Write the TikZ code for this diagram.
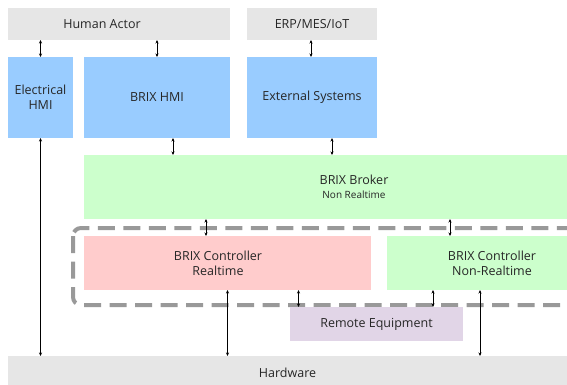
\documentclass[tikz,border=0pt]{standalone}
\usepackage{fontspec}
\setmainfont{Open Sans}
\usepackage{tikz}
\usetikzlibrary{arrows.meta}

\definecolor{actorgray}{HTML}{E6E6E6}
\definecolor{hmiblue}{HTML}{99CCFF}
\definecolor{nrtgreen}{HTML}{CCFFCC}
\definecolor{rtred}{HTML}{FFCCCC}
\definecolor{remotepurple}{HTML}{E1D5E7}
\definecolor{borderdash}{HTML}{999999}

\tikzset{
  box/.style={anchor=north west, inner sep=0pt, outer sep=0pt, align=center,
    text=black!85, font=\fontsize{12.5}{15}\selectfont},
  link/.style={{Stealth[length=3.5pt,width=3pt]}-{Stealth[length=3.5pt,width=3pt]}, line width=0.5pt}
}

\begin{document}
\begin{tikzpicture}[x=1pt,y=-1pt]
        \useasboundingbox (0,0) rectangle (567,385);
        % top row
        \node[box, fill=actorgray, minimum width=222pt, minimum height=32pt,
              label={[box, anchor=center, xshift=-17pt]center:Human Actor}] (human) at (8,8) {};
        \node[box, fill=actorgray, minimum width=130pt, minimum height=32pt] (erp) at (247,8) {ERP/MES/IoT};
        % interfaces
        \node[box, fill=hmiblue, minimum width=65pt, minimum height=81pt] (elec) at (8,57) {Electrical\\HMI};
        \node[box, fill=hmiblue, minimum width=146pt, minimum height=81pt] (hmi) at (84,57) {BRIX HMI};
        \node[box, fill=hmiblue, minimum width=130pt, minimum height=81pt] (ext) at (247,57) {External Systems};
        % broker
        \node[box, fill=nrtgreen, minimum width=540pt, minimum height=64pt] (broker) at (84,155)
              {BRIX Broker\\[-1pt]{\fontsize{10}{12}\selectfont Non Realtime}};
        % controllers
        \draw[borderdash, line width=4pt, dash pattern=on 17pt off 8.5pt, rounded corners=8pt]
              (73,228) rectangle (600,305);
        \node[box, fill=rtred, minimum width=287pt, minimum height=54pt,
              label={[box, anchor=center, xshift=-9.5pt]center:BRIX Controller\\Realtime}] (rt) at (84,236) {};
        \node[box, fill=nrtgreen, minimum width=210pt, minimum height=54pt] (nrt) at (387,236)
              {BRIX Controller\\Non-Realtime};
        \node[box, fill=remotepurple, minimum width=173pt, minimum height=34pt] (remote) at (290,307) {Remote Equipment};
        \node[box, fill=actorgray, minimum width=559pt, minimum height=34pt] (hw) at (8,356) {Hardware};
        % links
        \draw[link] (elec.north) -- (elec.north |- human.south);
        \draw[link] (hmi.north) -- (hmi.north |- human.south);
        \draw[link] ([xshift=-1pt]ext.north) -- ([xshift=-1pt]ext.north |- erp.south);
        \draw[link] ([xshift=16pt]hmi.south) -- ([xshift=16pt]hmi.south |- broker.north);
        \draw[link] ([xshift=20pt]ext.south) -- ([xshift=20pt]ext.south |- broker.north);
        \draw[link] ([xshift=-21.5pt]rt.north) -- ([xshift=-21.5pt]rt.north |- broker.south);
        \draw[link] ([xshift=-42pt]nrt.north) -- ([xshift=-42pt]nrt.north |- broker.south);
        \draw[link] (elec.south) -- (elec.south |- hw.north);
        \draw[link] (rt.south) -- (rt.south |- hw.north);
        \draw[link] ([xshift=71pt]rt.south) -- ([xshift=71pt]rt.south |- remote.north);
        \draw[link] ([xshift=-59pt]nrt.south) -- ([xshift=-59pt]nrt.south |- remote.north);
        \draw[link] ([xshift=-12pt]nrt.south) -- ([xshift=-12pt]nrt.south |- hw.north);
      \end{tikzpicture}
\end{document}
